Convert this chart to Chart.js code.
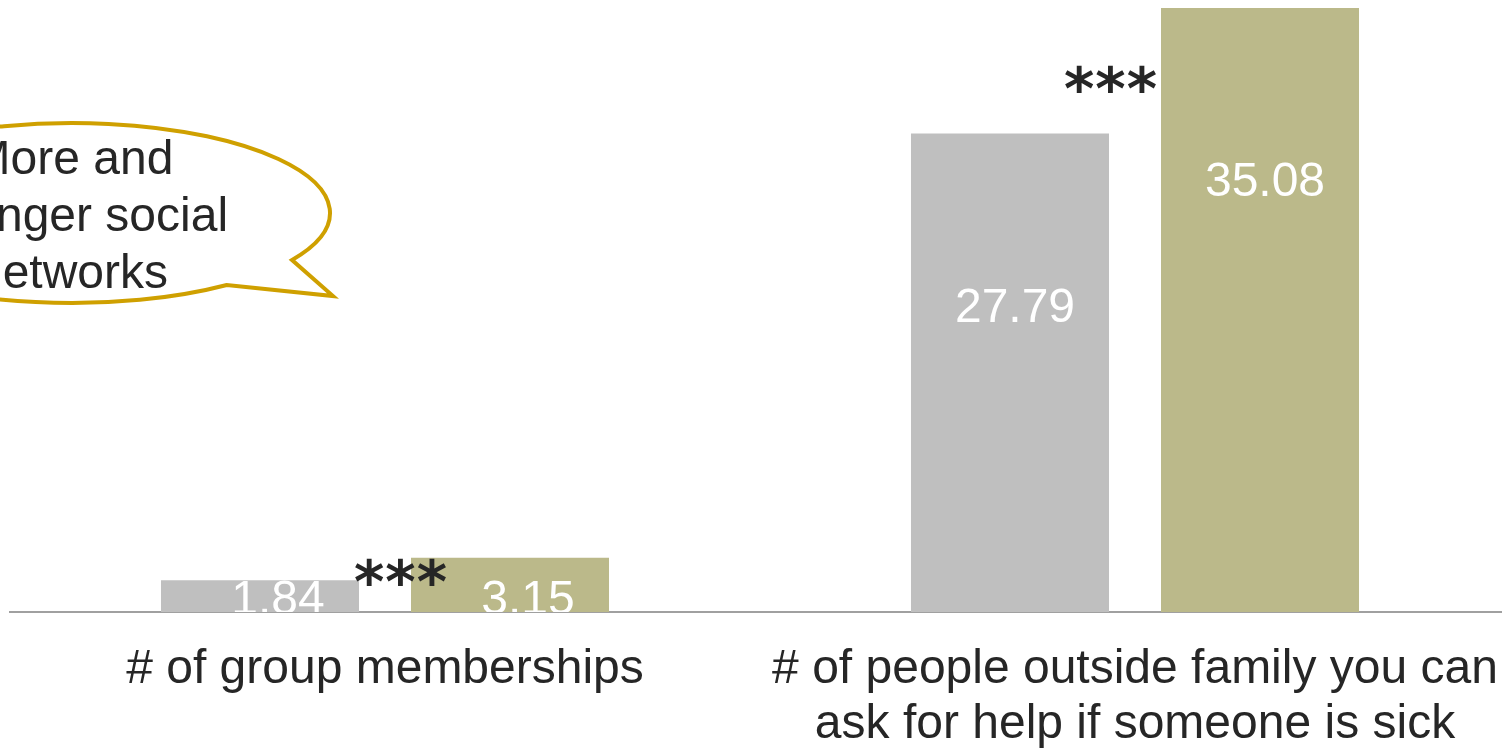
<!DOCTYPE html>
<html>
<head>
<meta charset="utf-8">
<title>Social networks</title>
<script src="https://cdn.jsdelivr.net/npm/chart.js@4/dist/chart.umd.min.js"></script>
<style>
  html, body { margin: 0; padding: 0; background: #fff; overflow: hidden; }
  #wrap { width: 1510px; height: 748px; }
</style>
</head>
<body>
<div id="wrap"><canvas id="chart" width="1510" height="748"></canvas></div>
<script>
'use strict';

// --- data ---
const categories = [
  '# of group memberships',
  ['# of people outside family you can', 'ask for help if someone is sick']
];
const baseline = [1.84, 27.79];   // grey bars
const program  = [3.15, 35.08];   // olive bars
const sigMarks = ['***', '***'];
const bubbleLines = ['More and', 'stronger social', 'networks'];

const FONT = '"Liberation Sans", Arial, sans-serif';
const GREY = '#bfbfbf';
const OLIVE = '#bbb98a';
const INK = '#262626';

// star placement per group: px offset from category centre, height in axis units
const sigPos = [{dx: 16, v: 2.32}, {dx: -24, v: 30.97}];

// white value labels sit ~175px under the bar top; short bars get theirs pinned
// just above the axis (and cut by it)
const valueLabels = {
  id: 'valueLabels',
  afterDatasetsDraw(chart) {
    const {ctx, chartArea} = chart;
    ctx.save();
    ctx.beginPath();
    ctx.rect(chartArea.left, chartArea.top, chartArea.right - chartArea.left, chartArea.bottom - chartArea.top);
    ctx.clip();
    ctx.font = '48px ' + FONT;
    ctx.fillStyle = '#fff';
    ctx.textAlign = 'center';
    ctx.textBaseline = 'middle';
    chart.data.datasets.forEach((ds, i) => {
      chart.getDatasetMeta(i).data.forEach((bar, j) => {
        const pinned = bar.y + 175 > bar.base - 11;
        const y = pinned ? bar.base - 11 : bar.y + 175;
        ctx.fillText(ds.data[j].toFixed(2), bar.x + (pinned ? 18 : 5), y);
      });
    });
    ctx.restore();
  }
};

// significance stars between the paired bars
const sigStars = {
  id: 'sigStars',
  afterDatasetsDraw(chart) {
    const {ctx, scales} = chart;
    ctx.save();
    ctx.font = 'bold 58px "DejaVu Sans", sans-serif';
    ctx.letterSpacing = '1px';
    ctx.fillStyle = INK;
    ctx.textAlign = 'center';
    ctx.textBaseline = 'alphabetic';
    sigMarks.forEach((s, i) => {
      const m = ctx.measureText(s);
      const cx = scales.x.getPixelForValue(i) + sigPos[i].dx;
      const cy = scales.y.getPixelForValue(sigPos[i].v);
      const mid = (m.actualBoundingBoxAscent - m.actualBoundingBoxDescent) / 2;
      ctx.fillText(s, cx, cy + mid);
    });
    ctx.restore();
  }
};

// speech bubble on the left, partly running off the page
const bubble = {
  id: 'bubble',
  afterDraw(chart) {
    const ctx = chart.ctx;
    const cx = 72, cy = 213, rx = 258, ry = 90;
    const a0 = Math.atan2(0.8, 0.6);
    const a1 = Math.atan2(0.522, 0.853) + Math.PI * 2;
    ctx.save();
    ctx.beginPath();
    ctx.ellipse(cx, cy, rx, ry, 0, a0, a1, false);
    ctx.lineTo(333, 296);
    ctx.closePath();
    ctx.fillStyle = '#fff';
    ctx.fill();
    ctx.lineWidth = 4;
    ctx.lineJoin = 'miter';
    ctx.strokeStyle = '#cfa000';
    ctx.stroke();
    ctx.font = '48px ' + FONT;
    ctx.fillStyle = INK;
    ctx.textAlign = 'center';
    ctx.textBaseline = 'middle';
    bubbleLines.forEach((t, i) => ctx.fillText(t, cx, 161 + i * 57));
    ctx.restore();
  }
};

new Chart(document.getElementById('chart'), {
  type: 'bar',
  data: {
    labels: categories,
    datasets: [
      {label: 'Comparison', data: baseline, backgroundColor: GREY, categoryPercentage: 0.6667, barPercentage: 0.792},
      {label: 'Members', data: program, backgroundColor: OLIVE, categoryPercentage: 0.6667, barPercentage: 0.792}
    ]
  },
  options: {
    responsive: false,
    animation: false,
    layout: {padding: {left: 10, right: 0, top: 0, bottom: 0}},
    plugins: {legend: {display: false}, tooltip: {enabled: false}},
    scales: {
      x: {
        grid: {display: false, drawTicks: false},
        border: {display: true, color: '#a0a0a0', width: 2},
        ticks: {
          color: INK, padding: 30, maxRotation: 0, minRotation: 0, autoSkip: false,
          font: {family: FONT, size: 48, lineHeight: 1.15}
        },
        afterFit: s => { s.height = 136; s.paddingLeft = 0; s.paddingRight = 0; }
      },
      y: {display: false, min: 0, max: 35.55}
    }
  },
  plugins: [valueLabels, sigStars, bubble]
});
</script>
</body>
</html>
